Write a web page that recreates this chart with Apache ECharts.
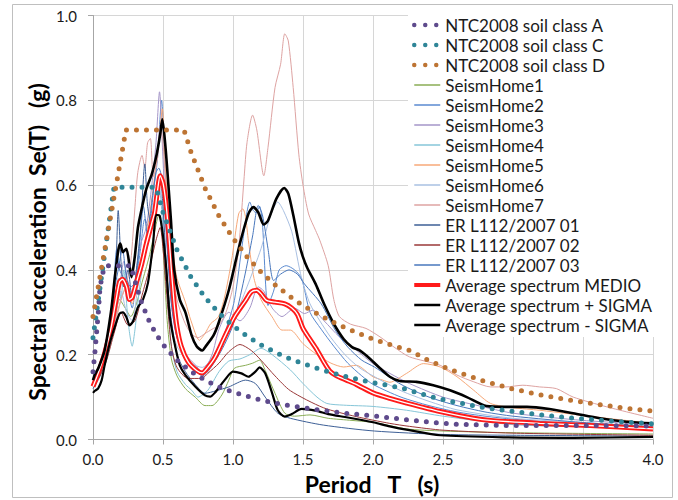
<!DOCTYPE html>
<html>
<head>
<meta charset="utf-8">
<script src="https://cdn.jsdelivr.net/npm/echarts@6/dist/echarts.min.js"></script>
<style>html,body{margin:0;padding:0;background:#fff}#c{width:678px;height:500px}</style>
</head>
<body>
<div id="c"></div>
<script>
// ---- data (period T in s, spectral acceleration in g) ----
const xTicks = ['0.0','0.5','1.0','1.5','2.0','2.5','3.0','3.5','4.0'];
const yTicks = ['0.0','0.2','0.4','0.6','0.8','1.0'];
const names = ['NTC2008 soil class A','NTC2008 soil class C','NTC2008 soil class D',
  'SeismHome1','SeismHome2','SeismHome3','SeismHome4','SeismHome5','SeismHome6','SeismHome7',
  'ER L112/2007 01','ER L112/2007 02','ER L112/2007 03',
  'Average spectrum MEDIO','Average spectrum + SIGMA','Average spectrum - SIGMA'];

const ntcA = [[0,0.16],[0.014,0.207],[0.038,0.3],[0.05,0.36],[0.075,0.4],[0.09,0.41],[0.27,0.41],[0.3,0.373],[0.35,0.32],[0.4,0.28],[0.45,0.249],[0.5,0.224],[0.6,0.187],[0.7,0.16],[0.8,0.14],[0.9,0.124],[1.0,0.112],[1.1,0.102],[1.2,0.093],[1.3,0.086],[1.4,0.08],[1.5,0.075],[1.6,0.07],[1.7,0.066],[1.8,0.062],[1.9,0.059],[2.0,0.056],[2.2,0.048],[2.4,0.041],[2.6,0.036],[2.8,0.034],[3.0,0.033],[3.5,0.033],[4.0,0.032]];
const ntcC = [[0,0.24],[0.05,0.358],[0.1,0.477],[0.15,0.595],[0.45,0.595],[0.5,0.536],[0.6,0.447],[0.7,0.383],[0.8,0.335],[0.9,0.298],[1.0,0.268],[1.1,0.244],[1.2,0.223],[1.3,0.206],[1.4,0.191],[1.5,0.179],[1.6,0.168],[1.7,0.158],[1.8,0.149],[1.9,0.141],[2.0,0.134],[2.2,0.122],[2.4,0.102],[2.6,0.087],[2.8,0.075],[3.0,0.066],[3.2,0.058],[3.4,0.051],[3.6,0.046],[3.8,0.041],[4.0,0.037]];
const ntcD = [[0,0.29],[0.05,0.384],[0.1,0.477],[0.15,0.571],[0.2,0.664],[0.235,0.73],[0.65,0.73],[0.7,0.678],[0.8,0.593],[0.9,0.527],[1.0,0.475],[1.1,0.431],[1.2,0.395],[1.3,0.365],[1.4,0.339],[1.5,0.316],[1.6,0.297],[1.7,0.279],[1.8,0.264],[1.9,0.25],[2.0,0.237],[2.1,0.226],[2.26,0.21],[2.4,0.186],[2.5,0.172],[2.6,0.159],[2.8,0.137],[3.0,0.119],[3.2,0.105],[3.4,0.093],[3.6,0.083],[3.8,0.074],[4.0,0.067]];

const sh1 = [[0,0.13],[0.05,0.16],[0.1,0.21],[0.15,0.27],[0.19,0.33],[0.23,0.31],[0.27,0.29],[0.31,0.32],[0.35,0.37],[0.4,0.43],[0.44,0.49],[0.47,0.53],[0.49,0.5],[0.51,0.4],[0.53,0.28],[0.56,0.19],[0.6,0.15],[0.66,0.12],[0.73,0.1],[0.8,0.08],[0.85,0.08],[0.92,0.105],[0.97,0.14],[1.01,0.168],[1.09,0.175],[1.14,0.18],[1.19,0.187],[1.23,0.163],[1.3,0.109],[1.37,0.062],[1.44,0.055],[1.55,0.058],[1.68,0.05],[1.85,0.045],[2.01,0.04],[2.24,0.025],[2.5,0.02],[3.0,0.016],[4.0,0.013]];
const sh2 = [[0,0.14],[0.05,0.17],[0.1,0.24],[0.14,0.33],[0.17,0.45],[0.19,0.4],[0.22,0.38],[0.25,0.35],[0.28,0.31],[0.31,0.38],[0.34,0.45],[0.37,0.52],[0.4,0.5],[0.43,0.58],[0.46,0.66],[0.49,0.8],[0.51,0.68],[0.53,0.5],[0.56,0.33],[0.6,0.25],[0.7,0.18],[0.78,0.16],[0.85,0.19],[0.9,0.22],[0.95,0.26],[1.01,0.328],[1.07,0.469],[1.12,0.56],[1.145,0.54],[1.165,0.535],[1.19,0.55],[1.21,0.51],[1.25,0.316],[1.29,0.35],[1.33,0.4],[1.38,0.41],[1.44,0.4],[1.49,0.38],[1.55,0.3],[1.63,0.26],[1.72,0.22],[1.82,0.18],[1.92,0.15],[2.0,0.13],[2.2,0.1],[2.4,0.08],[2.6,0.065],[2.8,0.055],[3.0,0.048],[3.5,0.035],[4.0,0.025]];
const sh3 = [[0,0.15],[0.05,0.17],[0.1,0.22],[0.15,0.3],[0.19,0.36],[0.22,0.42],[0.25,0.37],[0.28,0.33],[0.31,0.4],[0.34,0.46],[0.38,0.5],[0.42,0.6],[0.45,0.7],[0.475,0.82],[0.5,0.66],[0.53,0.46],[0.56,0.32],[0.6,0.24],[0.66,0.2],[0.72,0.18],[0.78,0.16],[0.85,0.2],[0.9,0.26],[0.97,0.3],[1.05,0.28],[1.12,0.31],[1.18,0.36],[1.22,0.35],[1.28,0.31],[1.35,0.29],[1.44,0.31],[1.51,0.297],[1.57,0.305],[1.65,0.28],[1.76,0.242],[1.88,0.211],[2.0,0.179],[2.12,0.156],[2.26,0.132],[2.5,0.1],[2.75,0.08],[3.0,0.062],[3.5,0.045],[4.0,0.035]];
const sh4 = [[0,0.13],[0.05,0.15],[0.1,0.19],[0.15,0.3],[0.18,0.38],[0.2,0.33],[0.22,0.4],[0.25,0.28],[0.28,0.22],[0.3,0.26],[0.33,0.35],[0.36,0.42],[0.4,0.47],[0.44,0.55],[0.47,0.6],[0.5,0.5],[0.53,0.35],[0.56,0.22],[0.6,0.16],[0.66,0.13],[0.705,0.116],[0.75,0.1],[0.82,0.116],[0.9,0.16],[0.97,0.185],[1.05,0.19],[1.12,0.2],[1.2,0.215],[1.28,0.2],[1.41,0.164],[1.5,0.132],[1.6,0.1],[1.67,0.085],[1.79,0.081],[2.0,0.078],[2.24,0.069],[2.5,0.055],[3.0,0.035],[3.5,0.03],[4.0,0.025]];
const sh5 = [[0,0.14],[0.05,0.16],[0.1,0.2],[0.15,0.27],[0.2,0.33],[0.24,0.36],[0.28,0.32],[0.32,0.4],[0.36,0.45],[0.4,0.52],[0.44,0.62],[0.47,0.7],[0.495,0.78],[0.52,0.62],[0.55,0.5],[0.58,0.42],[0.6,0.38],[0.66,0.324],[0.7,0.28],[0.76,0.234],[0.8,0.25],[0.84,0.273],[0.895,0.289],[0.94,0.336],[0.99,0.422],[1.04,0.532],[1.07,0.544],[1.09,0.524],[1.11,0.469],[1.15,0.38],[1.2,0.33],[1.28,0.289],[1.35,0.258],[1.41,0.258],[1.5,0.226],[1.6,0.2],[1.7,0.18],[1.79,0.171],[1.88,0.175],[2.0,0.148],[2.07,0.14],[2.12,0.135],[2.24,0.156],[2.36,0.179],[2.48,0.171],[2.6,0.148],[2.72,0.116],[2.84,0.085],[3.0,0.075],[3.19,0.069],[3.67,0.05],[4.0,0.038]];
const sh6 = [[0,0.14],[0.05,0.16],[0.1,0.2],[0.15,0.27],[0.2,0.35],[0.24,0.3],[0.28,0.28],[0.32,0.36],[0.36,0.44],[0.4,0.47],[0.44,0.55],[0.46,0.6],[0.49,0.57],[0.52,0.42],[0.55,0.3],[0.6,0.22],[0.7,0.18],[0.78,0.17],[0.9,0.22],[1.0,0.28],[1.1,0.36],[1.2,0.45],[1.27,0.53],[1.32,0.56],[1.36,0.54],[1.42,0.49],[1.49,0.38],[1.55,0.32],[1.62,0.28],[1.7,0.24],[1.8,0.2],[1.9,0.17],[2.0,0.15],[2.2,0.115],[2.4,0.09],[2.6,0.07],[3.0,0.05],[3.5,0.04],[4.0,0.03]];
const sh7 = [[0,0.14],[0.05,0.16],[0.1,0.2],[0.15,0.26],[0.2,0.33],[0.24,0.37],[0.27,0.42],[0.3,0.55],[0.32,0.63],[0.35,0.67],[0.37,0.64],[0.39,0.7],[0.41,0.71],[0.43,0.62],[0.46,0.66],[0.48,0.74],[0.5,0.7],[0.53,0.55],[0.56,0.42],[0.6,0.33],[0.65,0.28],[0.7,0.25],[0.75,0.24],[0.8,0.25],[0.85,0.26],[0.9,0.27],[0.95,0.3],[1.0,0.36],[1.04,0.45],[1.08,0.62],[1.1,0.7],[1.14,0.765],[1.17,0.73],[1.22,0.622],[1.25,0.689],[1.3,0.83],[1.34,0.885],[1.37,0.957],[1.395,0.94],[1.43,0.83],[1.47,0.673],[1.5,0.6],[1.54,0.532],[1.59,0.493],[1.62,0.47],[1.68,0.41],[1.72,0.33],[1.76,0.29],[1.84,0.272],[1.95,0.262],[2.05,0.242],[2.15,0.218],[2.26,0.195],[2.48,0.175],[2.6,0.152],[2.72,0.136],[2.84,0.124],[2.95,0.124],[3.07,0.128],[3.19,0.124],[3.31,0.12],[3.43,0.1],[3.67,0.077],[4.0,0.05]];
const er01 = [[0,0.12],[0.05,0.15],[0.1,0.22],[0.14,0.3],[0.165,0.42],[0.18,0.54],[0.2,0.42],[0.22,0.36],[0.25,0.4],[0.28,0.33],[0.31,0.4],[0.34,0.5],[0.37,0.65],[0.39,0.55],[0.42,0.5],[0.45,0.55],[0.48,0.62],[0.5,0.55],[0.53,0.38],[0.56,0.28],[0.6,0.2],[0.66,0.16],[0.73,0.13],[0.8,0.109],[0.88,0.115],[0.97,0.124],[1.09,0.14],[1.16,0.132],[1.23,0.1],[1.32,0.062],[1.41,0.05],[1.645,0.034],[2.01,0.02],[2.5,0.012],[3.0,0.01],[4.0,0.008]];
const er02 = [[0,0.13],[0.05,0.15],[0.1,0.19],[0.15,0.25],[0.2,0.3],[0.25,0.27],[0.3,0.28],[0.35,0.34],[0.4,0.4],[0.45,0.47],[0.48,0.5],[0.5,0.45],[0.53,0.33],[0.56,0.22],[0.6,0.17],[0.68,0.144],[0.776,0.144],[0.82,0.156],[0.9,0.18],[0.97,0.207],[1.05,0.224],[1.13,0.21],[1.2,0.187],[1.3,0.15],[1.41,0.115],[1.645,0.075],[1.88,0.054],[2.12,0.038],[2.26,0.031],[2.5,0.022],[3.0,0.015],[4.0,0.01]];
const er03 = [[0,0.13],[0.05,0.16],[0.1,0.23],[0.14,0.33],[0.18,0.4],[0.21,0.45],[0.24,0.38],[0.27,0.36],[0.3,0.37],[0.33,0.45],[0.36,0.55],[0.39,0.48],[0.42,0.56],[0.45,0.63],[0.47,0.64],[0.5,0.6],[0.53,0.45],[0.56,0.32],[0.6,0.24],[0.66,0.2],[0.72,0.17],[0.78,0.15],[0.9,0.2],[1.0,0.27],[1.08,0.38],[1.14,0.48],[1.18,0.552],[1.21,0.53],[1.25,0.45],[1.29,0.375],[1.34,0.39],[1.4,0.4],[1.46,0.39],[1.51,0.367],[1.63,0.32],[1.73,0.258],[1.82,0.218],[1.92,0.187],[2.01,0.171],[2.2,0.13],[2.4,0.1],[2.6,0.08],[2.8,0.065],[3.0,0.055],[3.5,0.04],[4.0,0.03]];

const medio = [[0,0.125],[0.012,0.135],[0.03,0.15],[0.06,0.178],[0.095,0.218],[0.13,0.265],[0.165,0.33],[0.19,0.372],[0.21,0.378],[0.24,0.36],[0.26,0.33],[0.28,0.335],[0.31,0.37],[0.345,0.41],[0.38,0.46],[0.42,0.51],[0.44,0.535],[0.46,0.585],[0.48,0.622],[0.5,0.605],[0.52,0.56],[0.54,0.49],[0.56,0.4],[0.58,0.32],[0.6,0.265],[0.63,0.22],[0.68,0.183],[0.74,0.163],[0.78,0.157],[0.82,0.17],[0.87,0.193],[0.94,0.242],[1.01,0.289],[1.09,0.328],[1.13,0.348],[1.17,0.352],[1.2,0.344],[1.24,0.328],[1.3,0.324],[1.37,0.32],[1.42,0.31],[1.46,0.295],[1.5,0.262],[1.55,0.236],[1.6,0.211],[1.645,0.185],[1.69,0.162],[1.74,0.15],[1.81,0.14],[1.88,0.13],[2.0,0.11],[2.12,0.097],[2.24,0.086],[2.48,0.066],[2.72,0.05],[2.84,0.045],[3.19,0.038],[3.55,0.033],[4.0,0.025]];
const plusSigma = [[0,0.14],[0.012,0.152],[0.04,0.17],[0.083,0.21],[0.13,0.305],[0.155,0.38],[0.18,0.445],[0.195,0.462],[0.214,0.442],[0.238,0.45],[0.262,0.407],[0.275,0.383],[0.298,0.43],[0.321,0.5],[0.345,0.54],[0.38,0.59],[0.42,0.626],[0.455,0.673],[0.48,0.72],[0.495,0.755],[0.515,0.7],[0.538,0.603],[0.557,0.516],[0.58,0.4],[0.62,0.33],[0.66,0.3],[0.705,0.245],[0.74,0.22],[0.78,0.21],[0.81,0.222],[0.86,0.245],[0.895,0.273],[0.97,0.352],[1.04,0.45],[1.11,0.532],[1.145,0.548],[1.18,0.536],[1.22,0.507],[1.25,0.516],[1.31,0.568],[1.366,0.593],[1.395,0.58],[1.43,0.53],[1.47,0.465],[1.5,0.43],[1.53,0.405],[1.59,0.367],[1.65,0.32],[1.72,0.273],[1.79,0.237],[1.85,0.218],[1.91,0.209],[1.98,0.19],[2.05,0.168],[2.12,0.148],[2.19,0.138],[2.31,0.136],[2.43,0.128],[2.55,0.116],[2.67,0.1],[2.81,0.079],[2.95,0.077],[3.1,0.077],[3.26,0.072],[3.43,0.062],[3.62,0.05],[3.81,0.042],[4.0,0.038]];
const minusSigma = [[0,0.11],[0.014,0.115],[0.036,0.12],[0.062,0.14],[0.083,0.175],[0.119,0.226],[0.155,0.265],[0.19,0.297],[0.214,0.3],[0.238,0.289],[0.262,0.269],[0.286,0.279],[0.321,0.312],[0.357,0.33],[0.393,0.37],[0.429,0.462],[0.452,0.53],[0.476,0.528],[0.5,0.48],[0.524,0.4],[0.545,0.3],[0.56,0.265],[0.59,0.215],[0.62,0.175],[0.66,0.152],[0.73,0.125],[0.8,0.104],[0.836,0.101],[0.87,0.11],[0.94,0.14],[1.0,0.16],[1.06,0.156],[1.11,0.148],[1.16,0.16],[1.19,0.17],[1.23,0.156],[1.28,0.109],[1.32,0.069],[1.37,0.054],[1.42,0.06],[1.49,0.072],[1.59,0.068],[1.68,0.06],[1.8,0.053],[1.92,0.046],[2.01,0.04],[2.12,0.031],[2.26,0.022],[2.48,0.01],[2.95,0.005],[3.43,0.004],[4.0,0.006]];

// ---- styling ----
const FONT = 'Lato, "Open Sans", sans-serif';
const COLORS = ['#5e4a8c','#2f8597','#bd7433','#8aad55','#5a8ad0','#a596c9','#86c6d8','#f7a878',
  '#a9c0e2','#dea3a2','#3d5f96','#9a3838','#4877bd','#ff1a1a','#000000','#000000'];
const chart = echarts.init(document.getElementById('c'), null, {renderer: 'svg'});

function dotted(i, data) {
  return {name: names[i], type: 'line', data, symbol: 'none', smooth: false, z: 6,
    lineStyle: {width: 5, color: COLORS[i], type: [0, 10], cap: 'round'}, itemStyle: {color: COLORS[i]}};
}
function thin(i, data) {
  return {name: names[i], type: 'line', data, symbol: 'none', smooth: 0.25, z: 2,
    lineStyle: {width: 1, color: COLORS[i]}, itemStyle: {color: COLORS[i]}};
}
function bold(i, data, width, z) {
  return {name: names[i], type: 'line', data, symbol: 'none', smooth: 0.25, z,
    lineStyle: {width, color: COLORS[i]}, itemStyle: {color: COLORS[i]}};
}

const series = [
  dotted(0, ntcA), dotted(1, ntcC), dotted(2, ntcD),
  thin(3, sh1), thin(4, sh2), thin(5, sh3), thin(6, sh4), thin(7, sh5), thin(8, sh6), thin(9, sh7),
  thin(10, er01), thin(11, er02), thin(12, er03),
  bold(13, medio, 5, 3),
  {name: 'medio-core', type: 'line', data: medio, symbol: 'none', smooth: 0.25, z: 3,
    lineStyle: {width: 1.3, color: '#ffffff'}, itemStyle: {color: '#ffffff'}},
  bold(14, plusSigma, 2.6, 4),
  bold(15, minusSigma, 2.2, 4)
];

const legendData = names.map((n, i) => {
  if (i < 3) return {name: n, lineStyle: {width: 4.5, color: COLORS[i], type: [0, 11], cap: 'round'}};
  if (i === 13) return {name: n, lineStyle: {width: 4, color: COLORS[i], type: 'solid'}};
  if (i > 13) return {name: n, lineStyle: {width: 2.5, color: COLORS[i], type: 'solid'}};
  return {name: n, lineStyle: {width: 1.5, color: COLORS[i], type: 'solid'}};
});

chart.setOption({
  animation: false,
  backgroundColor: '#ffffff',
  grid: {left: 93, right: 25, top: 15.5, bottom: 60.5, containLabel: false},
  xAxis: {
    type: 'value', min: 0, max: 4, interval: 0.5,
    axisLine: {show: true, lineStyle: {color: '#a6a6a6', width: 1}},
    axisTick: {show: true, length: 5, lineStyle: {color: '#a6a6a6'}},
    axisLabel: {margin: 12, fontSize: 15, fontFamily: FONT, color: '#1a1a1a',
      formatter: v => xTicks[Math.round(v / 0.5)]},
    splitLine: {show: true, lineStyle: {color: '#d6d6d6', width: 1}}
  },
  yAxis: {
    type: 'value', min: 0, max: 1, interval: 0.2,
    axisLine: {show: true, lineStyle: {color: '#a6a6a6', width: 1}},
    axisTick: {show: true, length: 5, lineStyle: {color: '#a6a6a6'}},
    axisLabel: {margin: 16, fontSize: 15, fontFamily: FONT, color: '#1a1a1a',
      formatter: v => yTicks[Math.round(v / 0.2)]},
    splitLine: {show: true, lineStyle: {color: '#d6d6d6', width: 1}}
  },
  legend: {
    data: legendData, orient: 'vertical', left: 408, top: 15,
    itemWidth: 26, itemHeight: 10, itemGap: 0,
    padding: [0, 6, 2, 4], backgroundColor: '#ffffff',
    itemStyle: {opacity: 0},
    textStyle: {fontSize: 17, fontFamily: FONT, color: '#1a1a1a', lineHeight: 20},
    selectedMode: false
  },
  graphic: [
    {type: 'rect', silent: true, z: -10,
      shape: {x: 12.5, y: 4.5, width: 660, height: 493},
      style: {fill: 'none', stroke: '#bfbfbf', lineWidth: 1}},
    {type: 'text', silent: true, x: 37, y: 242, rotation: Math.PI / 2,
      style: {text: 'Spectral acceleration  Se(T)   (g)', font: 'bold 23px ' + FONT,
        fill: '#000', textAlign: 'center', textVerticalAlign: 'middle'}},
    {type: 'text', silent: true, x: 372, y: 484,
      style: {text: 'Period   T   (s)', font: 'bold 23px ' + FONT,
        fill: '#000', textAlign: 'center', textVerticalAlign: 'middle'}}
  ],
  series
});
</script>
</body>
</html>
